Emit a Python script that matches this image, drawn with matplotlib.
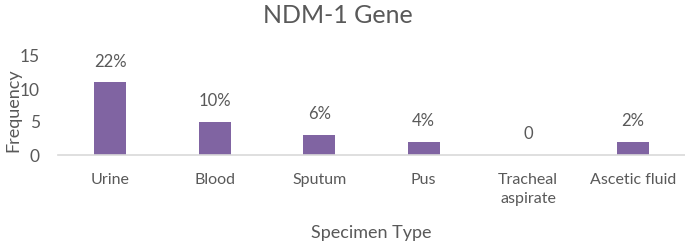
import matplotlib.pyplot as plt

# data
specimens = ["Urine", "Blood", "Sputum", "Pus", "Tracheal\naspirate", "Ascetic fluid"]
frequency = [11, 5, 3, 2, 0, 2]
pct_labels = ["22%", "10%", "6%", "4%", "0", "2%"]

plt.rcParams['font.family'] = ['Lato', 'DejaVu Sans']
text_col = '#595959'

fig = plt.figure(figsize=(6.85, 2.52), dpi=100)
ax = fig.add_axes([58 / 685, 97 / 252, 627 / 685, 99 / 252])

x = range(len(specimens))
bars = ax.bar(x, frequency, width=0.31, color='#8064A2')

for b, lab in zip(bars, pct_labels):
    ax.annotate(lab, (b.get_x() + b.get_width() / 2, b.get_height()),
                xytext=(0, 15), textcoords='offset points',
                ha='center', va='center', fontsize=12, color=text_col)

ax.set_xlim(-0.5, len(specimens) - 0.5)
ax.set_ylim(0, 15)
ax.set_yticks([0, 5, 10, 15])
ax.set_xticks(list(x))
ax.set_xticklabels(specimens, fontsize=11.5, color=text_col, linespacing=1.45)
ax.tick_params(axis='y', labelsize=12.5, labelcolor=text_col, length=0, pad=13)
ax.tick_params(axis='x', length=0, pad=13)

for s in ['top', 'right', 'left']:
    ax.spines[s].set_visible(False)
ax.spines['bottom'].set_color('#D9D9D9')
ax.spines['bottom'].set_linewidth(1.2)

ax.set_ylabel("Frequency", fontsize=13, color=text_col)
ax.yaxis.set_label_coords(-0.058, 0.45)
ax.set_xlabel("Specimen Type", fontsize=13, color=text_col, labelpad=14)
fig.text(0.493, 0.94, "NDM-1 Gene", ha='center', va='center', fontsize=18, color=text_col)

fig.savefig('out.png', dpi=100)
